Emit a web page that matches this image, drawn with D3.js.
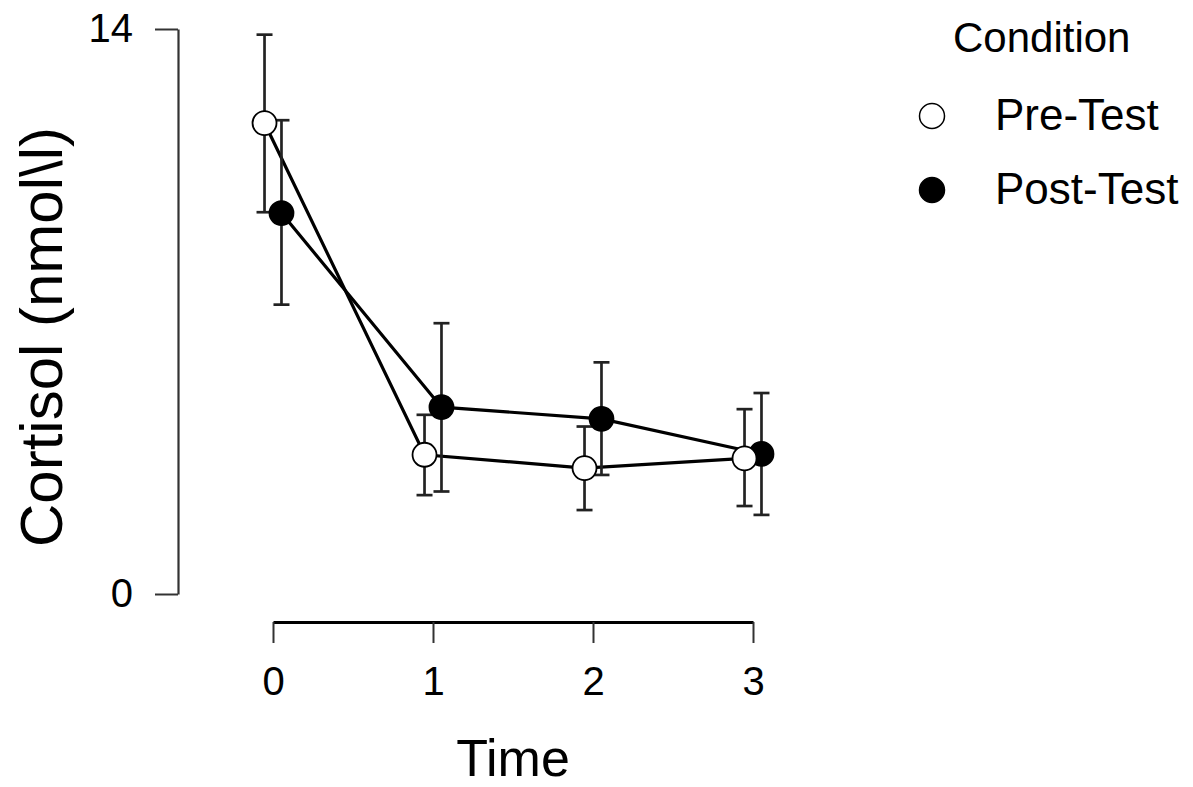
<!DOCTYPE html>
<html>
<head>
<meta charset="utf-8">
<script src="https://cdn.jsdelivr.net/npm/d3@7"></script>
<style>
  body { margin: 0; background: #fff; }
  svg text { font-family: "Liberation Sans", Arial, sans-serif; fill: #000; }
</style>
</head>
<body>
<svg id="chart" width="1193" height="787"></svg>
<script>
// valores
var times = [0, 1, 2, 3];
var timeTicks = [0, 1, 2, 3];
var cortisolTicks = [0, 14];
var conditions = ["Pre-Test", "Post-Test"];

var preMean  = [11.67, 3.45, 3.12, 3.36];
var preLower = [9.46, 2.45, 2.08, 2.18];
var preUpper = [13.86, 4.44, 4.15, 4.58];

var postMean  = [9.44, 4.63, 4.34, 3.47];
var postLower = [7.17, 2.54, 2.95, 1.96];
var postUpper = [11.74, 6.71, 5.74, 4.98];

var svg = d3.select("#chart");

var x = d3.scaleLinear().domain([0, 3]).range([273, 753]);
var y = d3.scaleLinear().domain([0, 14]).range([594, 29]);
var dodge = 0.053;

// series
var series = [
    { name: conditions[0], offset: -dodge, fill: "#fff", mean: preMean, lower: preLower, upper: preUpper },
    { name: conditions[1], offset: dodge, fill: "#000", mean: postMean, lower: postLower, upper: postUpper }
];
series.forEach(function (s) {
    s.points = times.map(function (t, i) {
        return { t: t + s.offset, m: s.mean[i], lo: s.lower[i], hi: s.upper[i] };
    });
});

// y axis
var yAxis = svg.append("g")
    .attr("transform", "translate(178,0)")
    .call(d3.axisLeft(y).tickValues(cortisolTicks).tickFormat(d3.format("d"))
        .tickSize(23).tickSizeOuter(0).tickPadding(22));
yAxis.select(".domain").attr("stroke", "#333").attr("stroke-width", 2.2);
yAxis.selectAll(".tick line").attr("stroke", "#333").attr("stroke-width", 2);
yAxis.selectAll(".tick text").style("font-size", "40px").attr("font-family", null);

// x axis
var xAxis = svg.append("g")
    .attr("transform", "translate(0,622)")
    .call(d3.axisBottom(x).tickValues(timeTicks).tickFormat(d3.format("d"))
        .tickSize(21).tickSizeOuter(0).tickPadding(24));
xAxis.select(".domain").attr("stroke", "#000").attr("stroke-width", 3);
xAxis.selectAll(".tick line").attr("stroke", "#333").attr("stroke-width", 2);
xAxis.selectAll(".tick text").style("font-size", "40px").attr("font-family", null);

// axis titles
svg.append("text")
    .attr("transform", "translate(62,337) rotate(-90)")
    .attr("text-anchor", "middle")
    .style("font-size", "60px")
    .text("Cortisol (nmol\\l)");

svg.append("text")
    .attr("x", (x(0) + x(3)) / 2)
    .attr("y", 776)
    .attr("text-anchor", "middle")
    .style("font-size", "52px")
    .text("Time");

var line = d3.line()
    .x(function (d) { return x(d.t); })
    .y(function (d) { return y(d.m); });

// lines
series.forEach(function (s) {
    svg.append("path")
        .datum(s.points)
        .attr("d", line)
        .attr("fill", "none")
        .attr("stroke", "#000")
        .attr("stroke-width", 3.2);
});

// error bars + points (post primero, pre encima)
var cap = 8;
[series[1], series[0]].forEach(function (s) {
    var g = svg.append("g");
    var bars = g.selectAll(".bar").data(s.points).enter().append("g")
        .attr("stroke", "#222").attr("stroke-width", 2.7);
    bars.append("line")
        .attr("x1", function (d) { return x(d.t); })
        .attr("x2", function (d) { return x(d.t); })
        .attr("y1", function (d) { return y(d.lo); })
        .attr("y2", function (d) { return y(d.hi); });
    bars.append("line")
        .attr("x1", function (d) { return x(d.t) - cap; })
        .attr("x2", function (d) { return x(d.t) + cap; })
        .attr("y1", function (d) { return y(d.hi); })
        .attr("y2", function (d) { return y(d.hi); });
    bars.append("line")
        .attr("x1", function (d) { return x(d.t) - cap; })
        .attr("x2", function (d) { return x(d.t) + cap; })
        .attr("y1", function (d) { return y(d.lo); })
        .attr("y2", function (d) { return y(d.lo); });
});
[series[1], series[0]].forEach(function (s) {
    svg.append("g").selectAll("circle").data(s.points).enter().append("circle")
        .attr("cx", function (d) { return x(d.t); })
        .attr("cy", function (d) { return y(d.m); })
        .attr("r", 12)
        .attr("fill", s.fill)
        .attr("stroke", "#000")
        .attr("stroke-width", 1.8);
});

// legend
var legend = svg.append("g");
legend.append("text")
    .attr("x", 953)
    .attr("y", 52)
    .style("font-size", "42px")
    .text("Condition");
var items = legend.selectAll(".item").data(series).enter().append("g")
    .attr("transform", function (d, i) { return "translate(932," + (116 + i * 74) + ")"; });
items.append("circle")
    .attr("r", 12.5)
    .attr("fill", function (d) { return d.fill; })
    .attr("stroke", "#000")
    .attr("stroke-width", 1.5);
items.append("text")
    .attr("x", 63)
    .attr("y", 14)
    .style("font-size", "44px")
    .text(function (d) { return d.name; });
</script>
</body>
</html>
